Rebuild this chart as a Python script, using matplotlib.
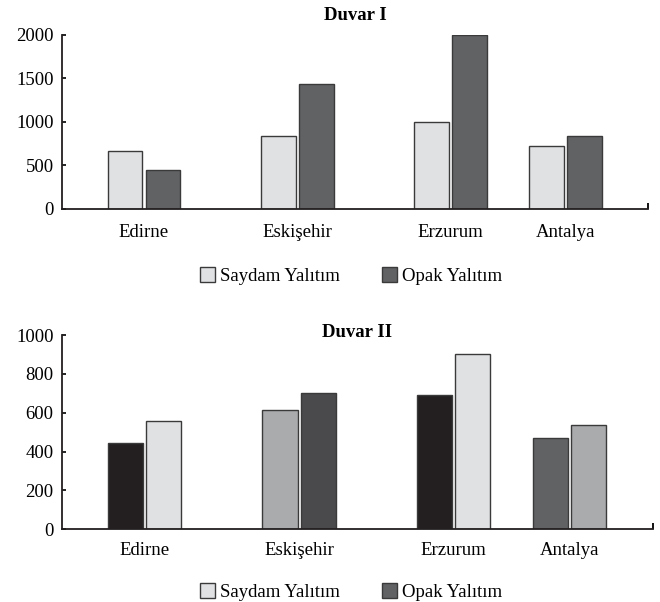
import matplotlib
matplotlib.use("Agg")
import matplotlib.pyplot as plt
from matplotlib.patches import Patch

plt.rcParams['font.family'] = ['Liberation Serif', 'DejaVu Serif']

cities = ["Edirne", "Eskişehir", "Erzurum", "Antalya"]
series = ["Saydam Yalıtım", "Opak Yalıtım"]

# Duvar I
wall1_saydam = [667, 835, 1000, 724]
wall1_opak = [445, 1440, 2000, 835]

# Duvar II
wall2_first = [445, 612, 689, 469]
wall2_second = [555, 700, 900, 534]

# group positions along the x axis (Antalya sits closer to Erzurum)
xpos = [0, 1, 2, 2.75]

LIGHT = "#e0e1e3"
DARK = "#616264"
wall2_first_colors = ["#231f20", "#a9abad", "#231f20", DARK]
wall2_second_colors = [LIGHT, "#4a4a4c", LIGHT, "#a9abad"]

bar_w = 0.228
off = 0.124
edge = "#3a3a3a"
fs = 13.5

fig = plt.figure(figsize=(6.6, 6.02), dpi=100)
ax1 = fig.add_axes([0.094, 0.653, 0.888, 0.289])
ax2 = fig.add_axes([0.094, 0.121, 0.895, 0.3225])


def style(ax, ymax, step, xpad):
    ax.set_xlim(-0.535, 3.29)
    ax.set_ylim(0, ymax)
    ax.set_yticks(range(0, ymax + 1, step))
    ax.set_xticks(xpos)
    ax.set_xticklabels(cities)
    for s in ("top", "right"):
        ax.spines[s].set_visible(False)
    for s in ("left", "bottom"):
        ax.spines[s].set_linewidth(1.3)
        ax.spines[s].set_color("#231f20")
    ax.tick_params(axis="y", direction="in", length=3, width=1.2,
                   labelsize=fs, pad=6)
    ax.tick_params(axis="x", length=0, labelsize=fs, pad=xpad)
    # small closing tick at the right end of the x axis
    ax.set_xticks([ax.get_xlim()[1]], minor=True)
    ax.tick_params(axis="x", which="minor", direction="in", length=4,
                   width=1.3, labelbottom=False)


ax1.bar([x - off for x in xpos], wall1_saydam, bar_w, color=LIGHT,
        edgecolor=edge, linewidth=1)
ax1.bar([x + off for x in xpos], wall1_opak, bar_w, color=DARK,
        edgecolor=edge, linewidth=1)
style(ax1, 2000, 500, 11)
ax1.text(0.5, 1.11, "Duvar I", transform=ax1.transAxes, ha="center",
         va="center", fontsize=fs, fontweight="bold")

ax2.bar([x - off for x in xpos], wall2_first, bar_w, color=wall2_first_colors,
        edgecolor=edge, linewidth=1)
ax2.bar([x + off for x in xpos], wall2_second, bar_w,
        color=wall2_second_colors, edgecolor=edge, linewidth=1)
style(ax2, 1000, 200, 9)
ax2.text(0.5, 1.015, "Duvar II", transform=ax2.transAxes, ha="center",
         va="center", fontsize=fs, fontweight="bold")

handles = [Patch(facecolor=LIGHT, edgecolor=edge, linewidth=1),
           Patch(facecolor=DARK, edgecolor=edge, linewidth=1)]
for ax, ycen in ((ax1, 1 - 276 / 602), (ax2, 1 - 592 / 602)):
    fig.legend(handles, series, loc="center", ncol=2,
               bbox_to_anchor=(0.532, ycen), frameon=False, fontsize=fs,
               handlelength=0.8, handleheight=0.8, handletextpad=0.3,
               columnspacing=2.2, borderaxespad=0)

fig.savefig("out.png", dpi=100)
